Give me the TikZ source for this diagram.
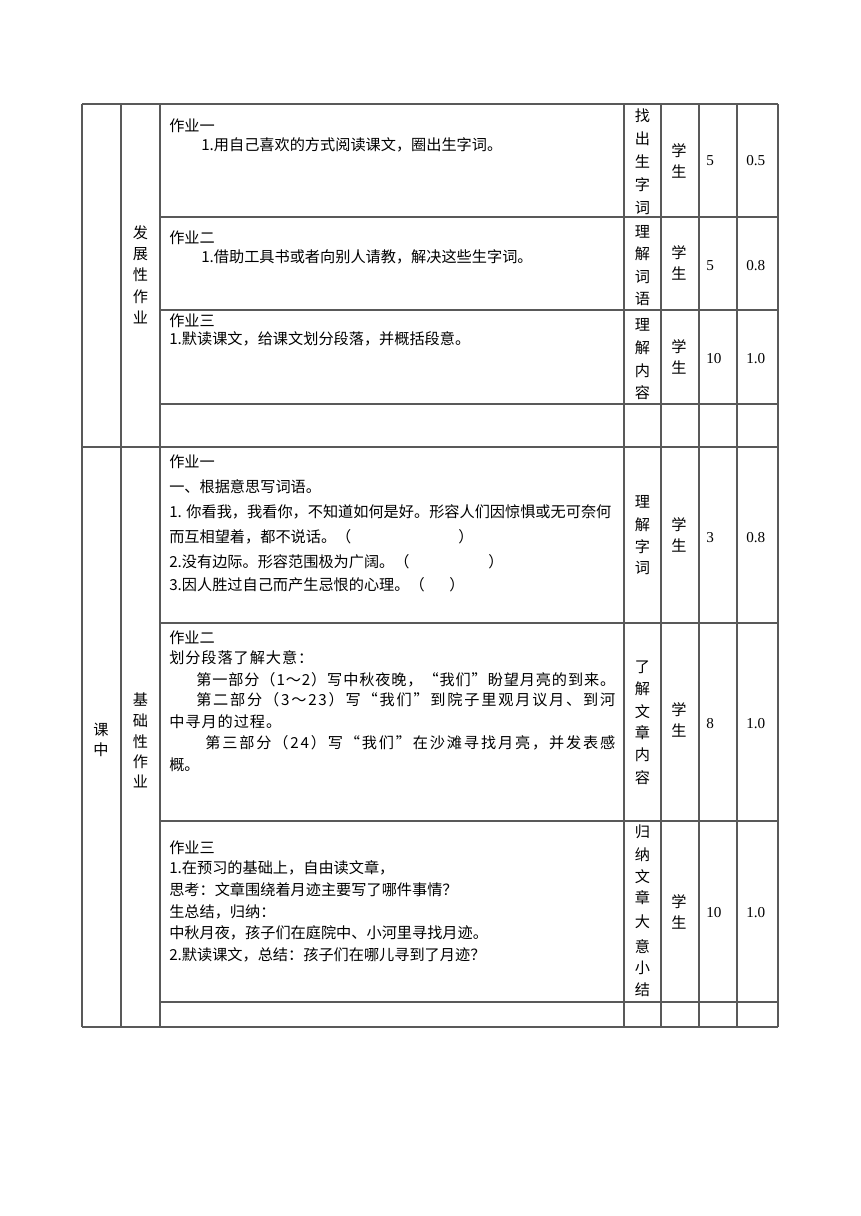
\documentclass[tikz,border=0pt]{standalone}
\usepackage{fontspec}
\setmainfont{Noto Sans CJK SC}
\newfontfamily\tnr{Liberation Serif}
\newdimen\pxu \pxu=0.6919pt
\def\spreadloop#1{\ifx\relax#1\else#1\hskip 0pt plus 1fil\expandafter\spreadloop\fi}
\newcommand\spreadto[2]{\hbox to #1\pxu{\spreadloop#2\relax\unskip}}
\begin{document}
\begin{tikzpicture}[x=0.6919pt,y=-0.6919pt,
  grid/.style={draw=black!65,line width=0.75pt},
  txt/.style={anchor=west,inner sep=0pt,text height=9.2pt,text depth=1.2pt,font=\fontsize{10.5}{12}\selectfont},
  vch/.style={inner sep=0pt,text height=9.2pt,text depth=1.2pt,font=\fontsize{10.5}{12}\selectfont},
  num/.style={anchor=west,inner sep=0pt,text height=7pt,text depth=0pt,font=\tnr\fontsize{10.5}{12}\selectfont}]
\useasboundingbox (0,0) rectangle (860,1216);
% grid
\draw[grid] (82,104) -- (778,104);
\foreach \yy in {217,310,404,623,821,1002} \draw[grid] (160,\yy) -- (778,\yy);
\draw[grid] (82,447) -- (778,447);
\draw[grid] (82,1027) -- (778,1027);
\foreach \xx in {82,121,160,624,661,699,737,778} \draw[grid] (\xx,104) -- (\xx,1027);
% left column labels
\foreach \c/\y [count=\i] in {发/233,展/254,性/275,作/297,业/318} \node[vch] (fz\i) at (140.5,\y) {\c};
\foreach \c/\y [count=\i] in {课/730,中/750} \node[vch] (kz\i) at (101,\y) {\c};
\foreach \c/\y [count=\i] in {基/700,础/721,性/742,作/762,业/782} \node[vch] (jc\i) at (140.5,\y) {\c};
% section 1 texts
\node[txt] (t1a) at (169,126) {作业一};
\node[txt] (t1b) at (201,145) {1.用自己喜欢的方式阅读课文，圈出生字词。};
\node[txt] (t2a) at (169,238) {作业二};
\node[txt] (t2b) at (201,257) {1.借助工具书或者向别人请教，解决这些生字词。};
\node[txt] (t3a) at (169,321) {作业三};
\node[txt] (t3b) at (169,339) {1.默读课文，给课文划分段落，并概括段意。};
% section 2 row A
\node[txt] (ua) at (169,462) {作业一};
\node[txt] (ub) at (169,487) {一、根据意思写词语。};
\node[txt] (uc) at (169,512) {1. 你看我，我看你，不知道如何是好。形容人们因惊惧或无可奈何};
\node[txt] (ud) at (169,537) {而互相望着，都不说话。（};
\node[txt] (udp) at (458,537) {）};
\node[txt] (ue) at (169,562) {2.没有边际。形容范围极为广阔。（};
\node[txt] (uep) at (488,562) {）};
\node[txt] (uf) at (169,585) {3.因人胜过自己而产生忌恨的心理。（};
\node[txt] (ufp) at (449,585) {）};
% row B
\node[txt] (va) at (169,638) {作业二};
\node[txt] (vb) at (169,658) {\spreadto{144}{划分段落了解大意：}};
\node[txt] (vc) at (196,680) {\spreadto{419}{第一部分（1～2）写中秋夜晚，“我们”盼望月亮的到来。}};
\node[txt] (vd) at (196,700) {\spreadto{419}{第二部分（3～23）写“我们”到院子里观月议月、到河}};
\node[txt] (ve) at (169,722) {\spreadto{112}{中寻月的过程。}};
\node[txt] (vf) at (205,743) {\spreadto{410}{第三部分（24）写“我们”在沙滩寻找月亮，并发表感}};
\node[txt] (vg) at (169,765) {概。};
% row C
\node[txt] (wa) at (169,848) {作业三};
\node[txt] (wb) at (169,868) {1.在预习的基础上，自由读文章，};
\node[txt] (wc) at (169,890) {思考：文章围绕着月迹主要写了哪件事情？};
\node[txt] (wd) at (169,912) {生总结，归纳：};
\node[txt] (we) at (169,933) {中秋月夜，孩子们在庭院中、小河里寻找月迹。};
\node[txt] (wf) at (169,955) {2.默读课文，总结：孩子们在哪儿寻到了月迹？};
% goal columns
\foreach \c/\y [count=\i] in {找/116,出/139,生/162,字/185,词/208} \node[vch] (ga\i) at (642.5,\y) {\c};
\foreach \c/\y [count=\i] in {理/232,解/254,词/277,语/299} \node[vch] (gb\i) at (642.5,\y) {\c};
\foreach \c/\y [count=\i] in {理/325,解/348,内/371,容/393} \node[vch] (gc\i) at (642.5,\y) {\c};
\foreach \c/\y [count=\i] in {理/502,解/525,字/547,词/568} \node[vch] (gd\i) at (642.5,\y) {\c};
\foreach \c/\y [count=\i] in {了/667,解/689,文/712,章/733,内/755,容/778} \node[vch] (ge\i) at (642.5,\y) {\c};
\foreach \c/\y [count=\i] in {归/832,纳/855,文/877,章/898,大/922,意/947,小/968,结/990} \node[vch] (gf\i) at (642.5,\y) {\c};
% student column
\foreach \y [count=\i] in {151,253,347,525,710,902} {
  \node[vch] (xa\i) at (679,\y) {学};
  \node[vch] (xb\i) at (679,\y+21) {生};
}
% numbers
\node[num] (m1) at (706,160) {5};   \node[num] (p1) at (746,160) {0.5};
\node[num] (m2) at (706,265) {5};   \node[num] (p2) at (746,265) {0.8};
\node[num] (m3) at (706,358) {10};  \node[num] (p3) at (746,358) {1.0};
\node[num] (m4) at (706,537) {3};   \node[num] (p4) at (746,537) {0.8};
\node[num] (m5) at (706,723) {8};   \node[num] (p5) at (746,723) {1.0};
\node[num] (m6) at (706,912) {10};  \node[num] (p6) at (746,912) {1.0};
\end{tikzpicture}
\end{document}
